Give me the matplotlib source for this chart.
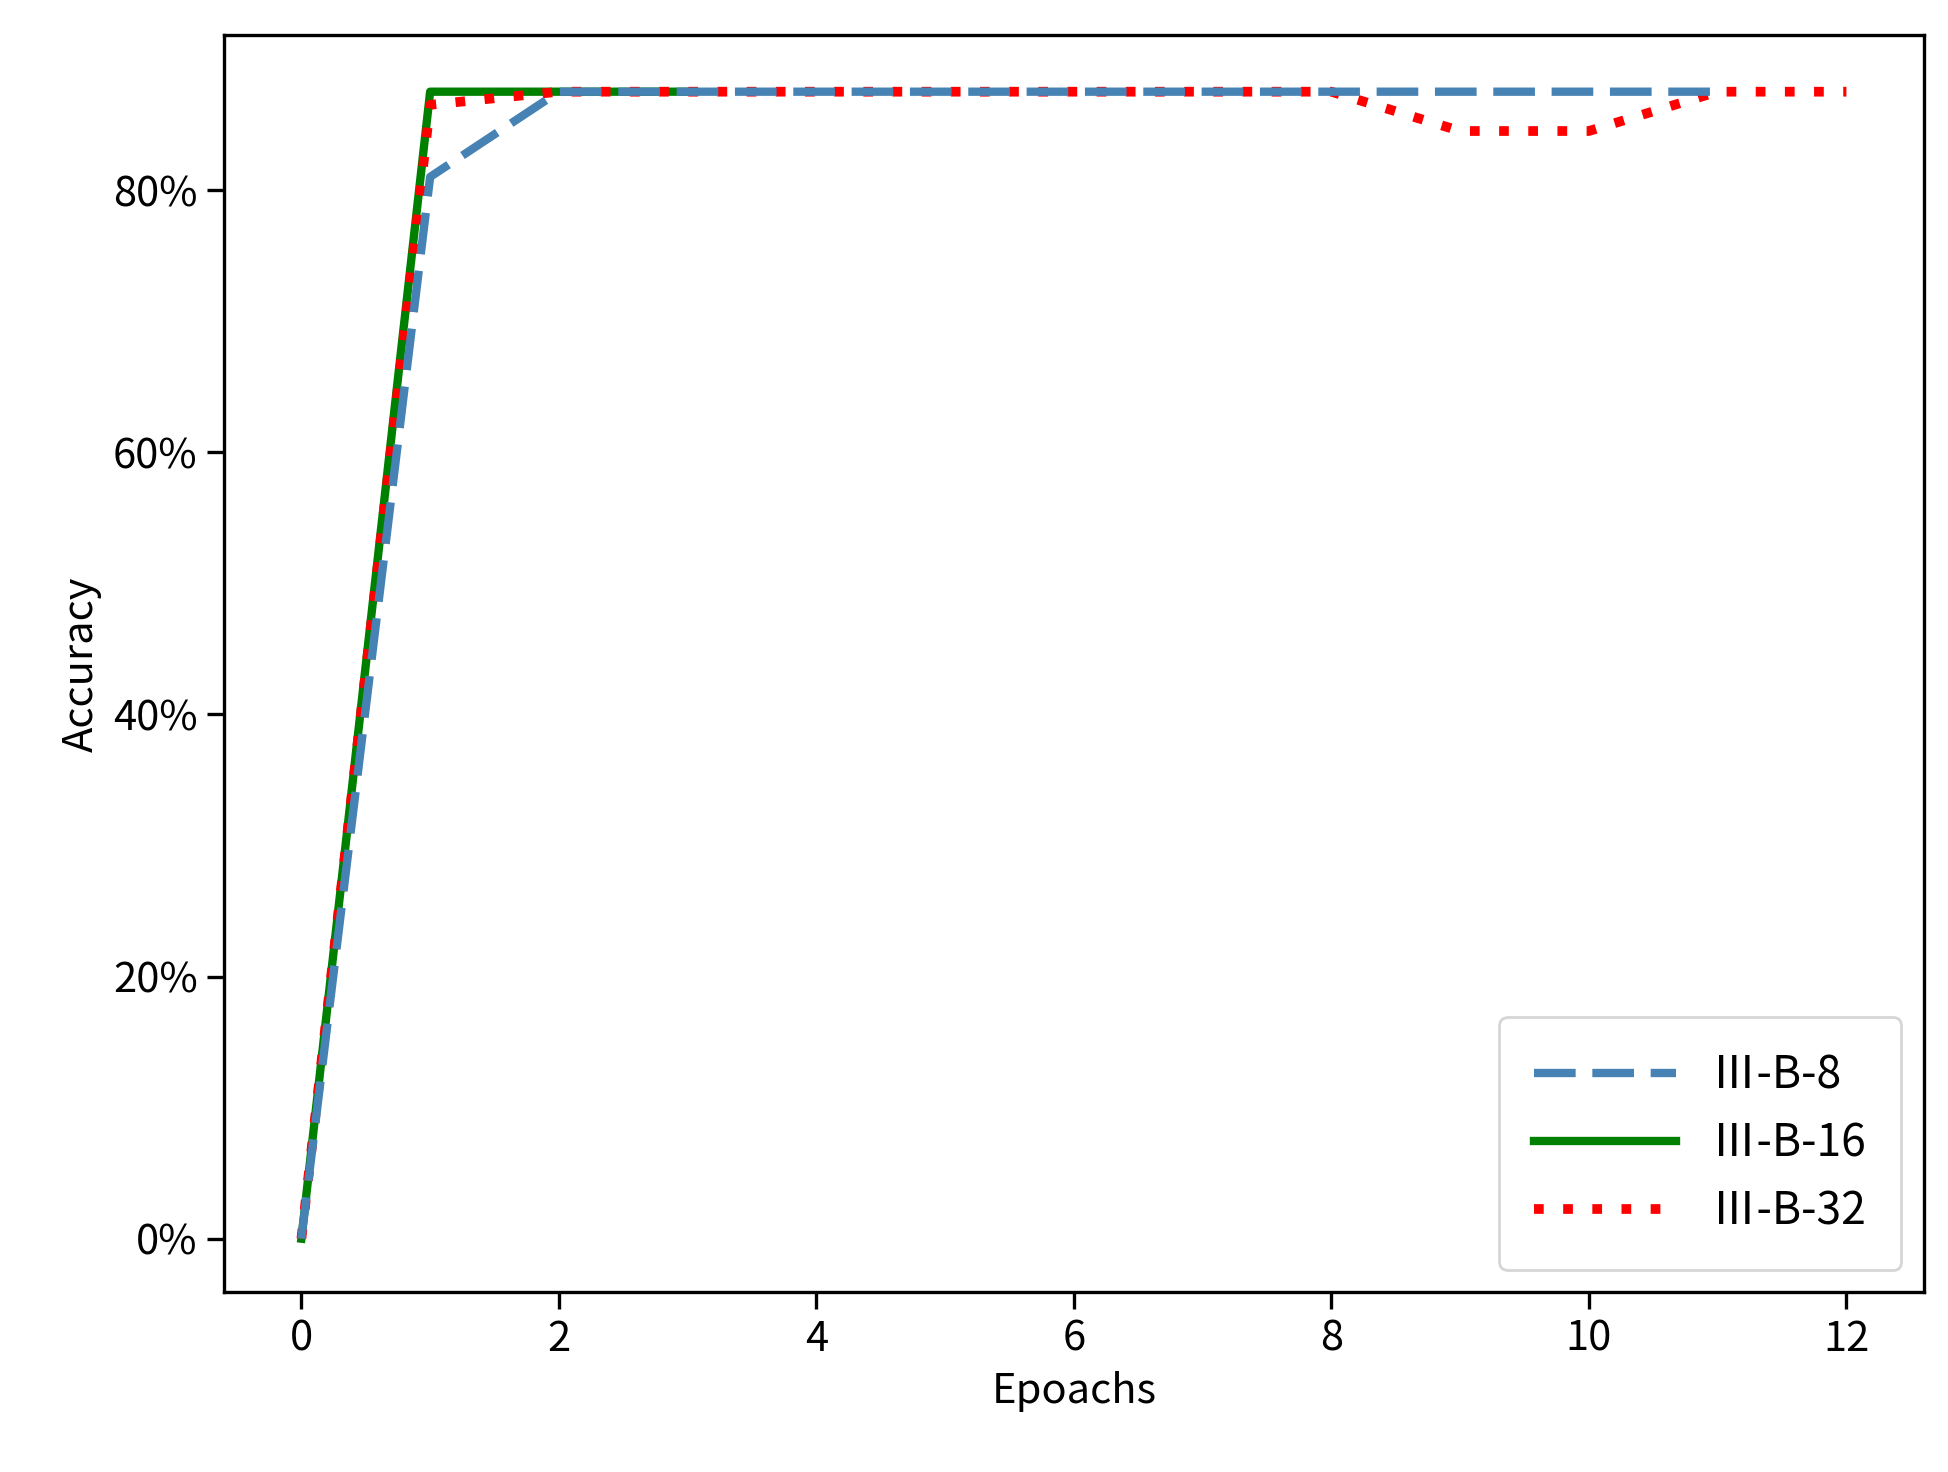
import matplotlib.pyplot as plt
from matplotlib.ticker import PercentFormatter

plt.rcParams['font.family'] = ['Noto Sans CJK SC', 'DejaVu Sans']

epochs_b8 = [0, 1, 2, 3, 4, 5, 6, 7, 8, 9, 10, 11]
acc_b8 = [0.0, 0.81, 0.875, 0.875, 0.875, 0.875, 0.875, 0.875, 0.875, 0.875, 0.875, 0.875]
epochs_b16 = [0, 1, 2, 3]
acc_b16 = [0.0, 0.875, 0.875, 0.875]
epochs_b32 = [0, 1, 2, 3, 4, 5, 6, 7, 8, 9, 10, 11, 12]
acc_b32 = [0.0, 0.865, 0.875, 0.875, 0.875, 0.875, 0.875, 0.875, 0.875, 0.845, 0.845, 0.875, 0.875]
labels = ['Ⅲ-B-8', 'Ⅲ-B-16', 'Ⅲ-B-32']

fig = plt.figure(figsize=(9.745, 7.36), dpi=200)
ax = fig.add_axes([0.115, 0.122, 0.872, 0.854])
ax.plot(epochs_b8, acc_b8, color='steelblue', linestyle=(0, (5, 2)), linewidth=3, label=labels[0], zorder=4)
ax.plot(epochs_b16, acc_b16, color='green', linestyle='-', linewidth=3, label=labels[1], zorder=2)
ax.plot(epochs_b32, acc_b32, color='red', linestyle=(0, (1, 2)), linewidth=3.5, label=labels[2], zorder=3)

ax.set_xlim(-0.6, 12.6)
ax.set_ylim(-0.041, 0.918)
ax.set_xticks([0, 2, 4, 6, 8, 10, 12])
ax.set_yticks([0, 0.2, 0.4, 0.6, 0.8])
ax.yaxis.set_major_formatter(PercentFormatter(1.0, decimals=0))
ax.tick_params(labelsize=15, width=1.2, length=6)
for s in ax.spines.values():
    s.set_linewidth(1.2)
ax.set_xlabel('Epoachs', fontsize=15)
ax.set_ylabel('Accuracy', fontsize=15)
ax.legend(loc='lower right', fontsize=16, handlelength=3.2, borderpad=0.8)

fig.savefig('out.png', dpi=200)
